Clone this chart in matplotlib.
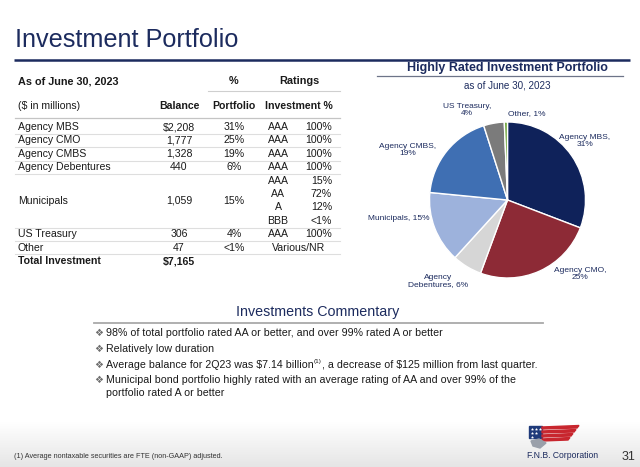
import numpy as np
import matplotlib
matplotlib.use("Agg")
import matplotlib.pyplot as plt
from matplotlib.patches import Polygon, Rectangle

plt.rcParams["font.family"] = ["Liberation Sans", "DejaVu Sans"]

# ---------------- data ----------------
categories = ["Agency MBS", "Agency CMO", "Agency CMBS", "Agency Debentures",
              "Municipals", "US Treasury", "Other"]
balances = [2208, 1777, 1328, 440, 1059, 306, 47]
balance_labels = ["$2,208", "1,777", "1,328", "440", "1,059", "306", "47"]
portfolio_pct = ["31%", "25%", "19%", "6%", "15%", "4%", "<1%"]
ratings = [["AAA"], ["AAA"], ["AAA"], ["AAA"], ["AAA", "AA", "A", "BBB"], ["AAA"], ["Various/NR"]]
rating_pct = [["100%"], ["100%"], ["100%"], ["100%"], ["15%", "72%", "12%", "<1%"], ["100%"], [""]]
total_name = "Total Investment"
total_label = "$7,165"

pie_order = ["Agency MBS", "Agency CMO", "Agency Debentures", "Municipals",
             "Agency CMBS", "US Treasury", "Other"]
pie_labels = ["Agency MBS,\n31%", "Agency CMO,\n25%", "Agency\nDebentures, 6%",
              "Municipals, 15%", "Agency CMBS,\n19%", "US Treasury,\n4%", "Other, 1%"]
pie_colors = ["#0f225a", "#8d2a36", "#d6d6d6", "#9db2dc", "#3f6fb3", "#7b7b7b", "#6fa63c"]

bullets = [
    "98% of total portfolio rated AA or better, and over 99% rated A or better",
    "Relatively low duration",
    ("Average balance for 2Q23 was $7.14 billion", "(1)",
     ", a decrease of $125 million from last quarter."),
    "Municipal bond portfolio highly rated with an average rating of AA and over 99% of the\nportfolio rated A or better",
]
footnote = "(1) Average nontaxable securities are FTE (non-GAAP) adjusted."

NAVY = "#1c2b5e"
TXT = "#1a1a1a"

# ---------------- figure ----------------
W, H = 640, 467
fig = plt.figure(figsize=(6.4, 4.67), dpi=100)
ax = fig.add_axes([0, 0, 1, 1])

# bottom gradient
grad = np.linspace(1.0, 0.90, 60).reshape(-1, 1)
ax.imshow(np.dstack([grad, grad, grad]), extent=[0, W, H, H - 45], aspect="auto", zorder=0)
ax.set_xlim(0, W)
ax.set_ylim(H, 0)
ax.axis("off")

# title
ax.text(15, 47, "Investment Portfolio", fontsize=18.2, color=NAVY, va="baseline", ha="left")
ax.plot([14, 630], [59.5, 59.5], color=NAVY, lw=1.8, solid_capstyle="butt")

# ---------------- table ----------------
FS = 7.6
X_NAME, X_BAL, X_PORT, X_RAT, X_RPCT, X_INV = 18, 179, 234, 278, 332, 299
ax.text(X_NAME, 81, "As of June 30, 2023", fontsize=7.8, fontweight="bold", color=TXT, va="center")
ax.text(X_PORT, 81, "%", fontsize=7.8, fontweight="bold", color=TXT, va="center", ha="center")
ax.text(X_INV, 81, "Ratings", fontsize=7.8, fontweight="bold", color=TXT, va="center", ha="center")
ax.plot([208, 340], [91, 91], color="#cfcfcf", lw=0.8)
ax.text(X_NAME, 106, "($ in millions)", fontsize=FS, color=TXT, va="center")
ax.text(X_BAL, 106, "Balance", fontsize=FS, fontweight="bold", color=TXT, va="center", ha="center")
ax.text(X_PORT, 106, "Portfolio", fontsize=FS, fontweight="bold", color=TXT, va="center", ha="center")
ax.text(X_INV, 106, "Investment %", fontsize=FS, fontweight="bold", color=TXT, va="center", ha="center")
ax.plot([15, 340], [118, 118], color="#c4c4c4", lw=0.9)

y0, pitch = 127, 13.4
k = 0
for i, cat in enumerate(categories):
    n = len(ratings[i])
    ys = [y0 + (k + j) * pitch for j in range(n)]
    ym = np.mean(ys)
    ax.text(X_NAME, ym, cat, fontsize=FS, color=TXT, va="center")
    ax.text(X_BAL, ym, balance_labels[i], fontsize=FS, color=TXT, va="center", ha="center")
    ax.text(X_PORT, ym, portfolio_pct[i], fontsize=FS, color=TXT, va="center", ha="center")
    for j in range(n):
        if rating_pct[i][j] == "":
            ax.text(X_INV, ys[j], ratings[i][j], fontsize=FS, color=TXT, va="center", ha="center")
        else:
            ax.text(X_RAT, ys[j], ratings[i][j], fontsize=FS, color=TXT, va="center", ha="center")
            ax.text(X_RPCT, ys[j], rating_pct[i][j], fontsize=FS, color=TXT, va="center", ha="right")
    k += n
    ax.plot([15, 340], [ys[-1] + pitch / 2] * 2, color="#dedede", lw=0.8)
yt = y0 + k * pitch
ax.text(X_NAME, yt, total_name, fontsize=FS, fontweight="bold", color=TXT, va="center")
ax.text(X_BAL, yt, total_label, fontsize=FS, fontweight="bold", color=TXT, va="center", ha="center")

# ---------------- pie ----------------
cx, cy, r = 507.5, 200, 78
half = 130
pax = fig.add_axes([(cx - half) / W, (H - (cy + half)) / H, 2 * half / W, 2 * half / H])
vals = [balances[categories.index(c)] for c in pie_order]
pax.pie(vals, colors=pie_colors, startangle=90, counterclock=False, radius=1,
        wedgeprops=dict(edgecolor="white", linewidth=1.0))
lim = half / r
pax.set_xlim(-lim, lim)
pax.set_ylim(-lim, lim)
pax.set_aspect("equal")
pax.axis("off")

label_pos = [(585, 141), (580, 274), (438, 281), (399, 218), (408, 150), (467, 110), (527, 114)]
for lab, (lx, ly) in zip(pie_labels, label_pos):
    ax.text(lx, ly, lab, fontsize=6.0, color=NAVY, ha="center", va="center", linespacing=1.05)

ax.text(cx, 68, "Highly Rated Investment Portfolio", fontsize=9, fontweight="bold",
        color=NAVY, ha="center", va="center")
ax.plot([377, 623], [75.5, 75.5], color="#6d7488", lw=0.9)
ax.text(cx, 86, "as of June 30, 2023", fontsize=7.1, color=NAVY, ha="center", va="center")

# ---------------- commentary ----------------
ax.text(318, 312, "Investments Commentary", fontsize=10.3, color=NAVY, ha="center", va="center")
ax.plot([94, 543], [323, 323], color="#a9a9a9", lw=1.3)

fig.canvas.draw()
renderer = fig.canvas.get_renderer()
inv = ax.transData.inverted()
BFS = 7.7
bullet_y = [333, 349, 365, 380]
for b, by in zip(bullets, bullet_y):
    ax.text(94.5, by, "\u2756", fontsize=7.2, color="#6e6e6e", ha="left", va="center",
            family=["DejaVu Sans"])
    if isinstance(b, tuple):
        t1 = ax.text(106, by, b[0], fontsize=BFS, color=TXT, ha="left", va="center")
        bb = t1.get_window_extent(renderer)
        x1 = inv.transform((bb.x1, bb.y0))[0]
        t2 = ax.text(x1, by - 3, b[1], fontsize=4.6, color=TXT, ha="left", va="center")
        bb2 = t2.get_window_extent(renderer)
        x2 = inv.transform((bb2.x1, bb2.y0))[0]
        ax.text(x2, by, b[2], fontsize=BFS, color=TXT, ha="left", va="center")
    else:
        lines = b.split("\n")
        for li, line in enumerate(lines):
            ax.text(106, by + li * 13.5, line, fontsize=BFS, color=TXT, ha="left", va="center")

# ---------------- footer ----------------
ax.text(14, 457, footnote, fontsize=5.2, color="#333333", ha="left", va="center")
ax.text(635, 457, "31", fontsize=9, color="#333333", ha="right", va="center")
ax.text(527, 456, "F.N.B. Corporation", fontsize=6.2, color=NAVY, ha="left", va="center")
# logo
ax.add_patch(Rectangle((529, 426), 13, 12, color="#1f3a7a", zorder=3))
for sx, sy in [(532, 429), (536, 429), (540, 429), (532, 433), (536, 433), (532, 436.5)]:
    ax.plot(sx, sy, marker=(5, 1, 0), ms=2.2, color="white", zorder=4, mew=0)
for i2, yy in enumerate([427, 431, 435, 439]):
    ax.add_patch(Polygon([[542, yy], [579 - i2 * 3, yy - 1.5], [577 - i2 * 3, yy + 1], [542, yy + 2]],
                         closed=True, color="#c8262e", zorder=3))
ax.add_patch(Polygon([[531, 441], [539, 439], [546, 443], [540, 448], [533, 446]],
                     closed=True, color="#9aa0aa", zorder=3))

fig.savefig("out.png", dpi=100)
